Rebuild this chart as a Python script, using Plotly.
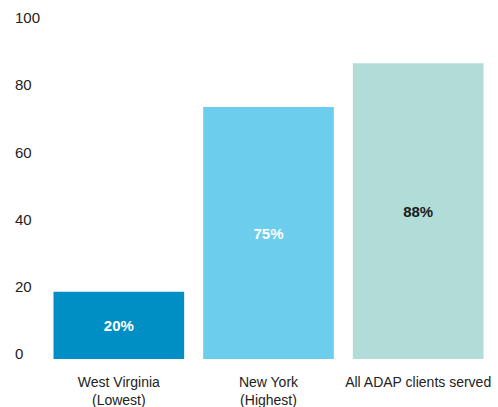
import plotly.graph_objects as go

# Share of clients by group (percent)
categories = ["West Virginia<br>(Lowest)", "New York<br>(Highest)", "All ADAP clients served"]
values = [20, 75, 88]
bar_colors = ["#008fc4", "#6ccdec", "#b1dcd8"]
label_colors = ["#ffffff", "#ffffff", "#1a1a1a"]
y_ticks = [0, 20, 40, 60, 80, 100]

W, H = 498, 407

# pad tick text with figure spaces so right-aligned labels read as left-aligned
y_ticktext = [str(t) + "\u2007" * (3 - len(str(t))) for t in y_ticks]

fig = go.Figure(
    go.Bar(
        x=categories,
        y=values,
        marker=dict(color=bar_colors, line=dict(width=0)),
        text=[f"{v}%" for v in values],
        textposition="inside",
        insidetextanchor="middle",
        textangle=0,
        textfont=dict(family="Liberation Sans, Arial, sans-serif", size=15,
                      color=label_colors, weight="bold"),
        hoverinfo="skip",
    )
)

fig.update_layout(
    width=W,
    height=H,
    margin=dict(l=43.5, r=4.5, t=22.5, b=48.3),
    paper_bgcolor="white",
    plot_bgcolor="white",
    bargap=0.127,
    showlegend=False,
    font=dict(family="Liberation Sans, Arial, sans-serif", color="#222222"),
    xaxis=dict(
        automargin=False,
        showgrid=False,
        showline=False,
        zeroline=False,
        ticks="outside",
        ticklen=10,
        tickcolor="rgba(0,0,0,0)",
        tickfont=dict(size=14, color="#222222"),
    ),
    yaxis=dict(
        automargin=False,
        range=[0, 100],
        tickvals=y_ticks,
        ticktext=y_ticktext,
        showgrid=False,
        showline=False,
        zeroline=False,
        ticks="",
        ticklabelstandoff=3,
        ticklabelshift=-5,
        tickfont=dict(size=15, color="#222222"),
    ),
)

fig.write_html("out.html")
